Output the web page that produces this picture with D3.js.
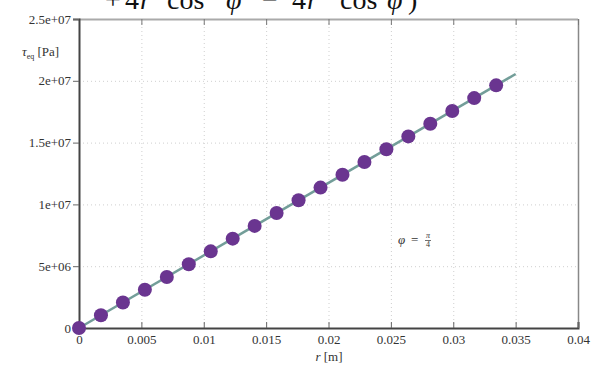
<!DOCTYPE html>
<html><head><meta charset="utf-8">
<script src="https://cdn.jsdelivr.net/npm/d3@7"></script>
<style>body{margin:0;background:#fff}svg{display:block}</style>
</head><body>
<svg id="c" width="592" height="367"></svg>
<script>
const rValues = [0, 0.00176, 0.00352, 0.00528, 0.00704, 0.0088, 0.01056, 0.01232, 0.01408, 0.01584, 0.0176, 0.01936, 0.02112, 0.02288, 0.02464, 0.0264, 0.02816, 0.02992, 0.03168, 0.03344];
const tauValues = [0, 1.03e6, 2.06e6, 3.1e6, 4.13e6, 5.16e6, 6.2e6, 7.23e6, 8.26e6, 9.3e6, 1.033e7, 1.136e7, 1.24e7, 1.343e7, 1.446e7, 1.55e7, 1.653e7, 1.756e7, 1.86e7, 1.963e7];
const lineR = [0, 0.035];
const lineTau = [0, 2.055e7];
const xTicks = [0, 0.005, 0.01, 0.015, 0.02, 0.025, 0.03, 0.035, 0.04];
const xTickLabels = ["0", "0.005", "0.01", "0.015", "0.02", "0.025", "0.03", "0.035", "0.04"];
const yTicks = [0, 5e6, 1e7, 1.5e7, 2e7, 2.5e7];
const yTickLabels = ["0", "5e+06", "1e+07", "1.5e+07", "2e+07", "2.5e+07"];

const svg = d3.select("#c");
const L = 79, R = 578, T = 19, B = 328;
const x = d3.scaleLinear().domain([0, 0.04]).range([L, R]);
const y = d3.scaleLinear().domain([0, 2.5e7]).range([B, T]);
const serif = "'Liberation Serif','DejaVu Serif',serif";

// cropped formula at top (the reference shows only its lower part)
const formula = svg.append("g").attr("font-family", "'Liberation Serif',serif").attr("font-size", 28).attr("fill", "#111");
[["+",105,false],["4",125,false],["r",140,true],["cos",167,false],["φ",226,true],["−",262,false],["4",292,false],["r",307,true],["cos",340,false],["φ",387,true],[")",408,false]]
  .forEach(([t, px, it]) => formula.append("text").attr("x", px).attr("y", 9).attr("font-style", it ? "italic" : "normal").text(t));

// grid
const grid = svg.append("g").attr("stroke", "#cfcfcf").attr("stroke-width", 1).attr("stroke-dasharray", "1,3");
grid.selectAll("line.v").data(xTicks.slice(1, -1)).join("line").attr("class", "v")
  .attr("x1", d => x(d) + 0.5).attr("x2", d => x(d) + 0.5).attr("y1", T).attr("y2", B);
grid.selectAll("line.h").data(yTicks.slice(1, -1)).join("line").attr("class", "h")
  .attr("x1", L).attr("x2", R).attr("y1", d => y(d) + 0.5).attr("y2", d => y(d) + 0.5);

// frame
svg.append("line").attr("x1", L).attr("x2", R).attr("y1", T + 0.5).attr("y2", T + 0.5).attr("stroke", "#aaa").attr("stroke-width", 2);
svg.append("line").attr("x1", R + 0.5).attr("x2", R + 0.5).attr("y1", T).attr("y2", B).attr("stroke", "#888").attr("stroke-width", 1.5);

// axes
const xAxis = d3.axisBottom(x).tickValues(xTicks).tickFormat((d, i) => xTickLabels[i]).tickSize(-6).tickPadding(7);
const gx = svg.append("g").attr("transform", `translate(0,${B})`).call(xAxis);
gx.select(".domain").attr("stroke", "#444").attr("stroke-width", 2);
gx.selectAll(".tick line").attr("stroke", "#666");
gx.selectAll("text").attr("font-family", serif).attr("font-size", 13).attr("fill", "#333");

const xTop = d3.axisTop(x).tickValues(xTicks).tickFormat("").tickSize(-6);
const gxt = svg.append("g").attr("transform", `translate(0,${T})`).call(xTop);
gxt.select(".domain").remove();
gxt.selectAll(".tick line").attr("stroke", "#777");

const yAxis = d3.axisLeft(y).tickValues(yTicks).tickFormat((d, i) => yTickLabels[i]).tickSize(6).tickPadding(2);
const gy = svg.append("g").attr("transform", `translate(${L},0)`).call(yAxis);
gy.select(".domain").attr("stroke", "#444").attr("stroke-width", 2);
gy.selectAll(".tick line").attr("stroke", "#666");
gy.selectAll("text").attr("font-family", serif).attr("font-size", 13).attr("fill", "#333");

// fit line
svg.append("path").datum(lineR.map((r, i) => [r, lineTau[i]]))
  .attr("d", d3.line().x(d => x(d[0])).y(d => y(d[1])))
  .attr("stroke", "#739e99").attr("stroke-width", 2.5).attr("fill", "none");

// points
svg.append("g").selectAll("circle").data(rValues).join("circle")
  .attr("cx", d => x(d)).attr("cy", (d, i) => y(tauValues[i])).attr("r", 7)
  .attr("fill", "#6a3590");

// labels
const yl = svg.append("text").attr("x", 22).attr("y", 56).attr("font-family", serif).attr("font-size", 13).attr("fill", "#333");
yl.append("tspan").attr("font-style", "italic").text("τ");
yl.append("tspan").attr("font-size", 8).attr("dy", 3).text("eq");
yl.append("tspan").attr("dy", -3).text(" [Pa]");

const xl = svg.append("text").attr("x", 329).attr("y", 361).attr("text-anchor", "middle").attr("font-family", serif).attr("font-size", 13).attr("fill", "#333");
xl.append("tspan").attr("font-style", "italic").text("r");
xl.append("tspan").text(" [m]");

const an = svg.append("g").attr("font-family", serif).attr("fill", "#333");
an.append("text").attr("x", 398).attr("y", 244).attr("font-size", 13).attr("font-style", "italic").text("φ");
an.append("text").attr("x", 411).attr("y", 244).attr("font-size", 13).text("=");
an.append("text").attr("x", 428).attr("y", 238).attr("font-size", 8).attr("text-anchor", "middle").attr("font-style", "italic").text("π");
an.append("line").attr("x1", 425).attr("x2", 431).attr("y1", 240.5).attr("y2", 240.5).attr("stroke", "#333").attr("stroke-width", 0.7);
an.append("text").attr("x", 428).attr("y", 247).attr("font-size", 8).attr("text-anchor", "middle").text("4");
</script>
</body></html>
